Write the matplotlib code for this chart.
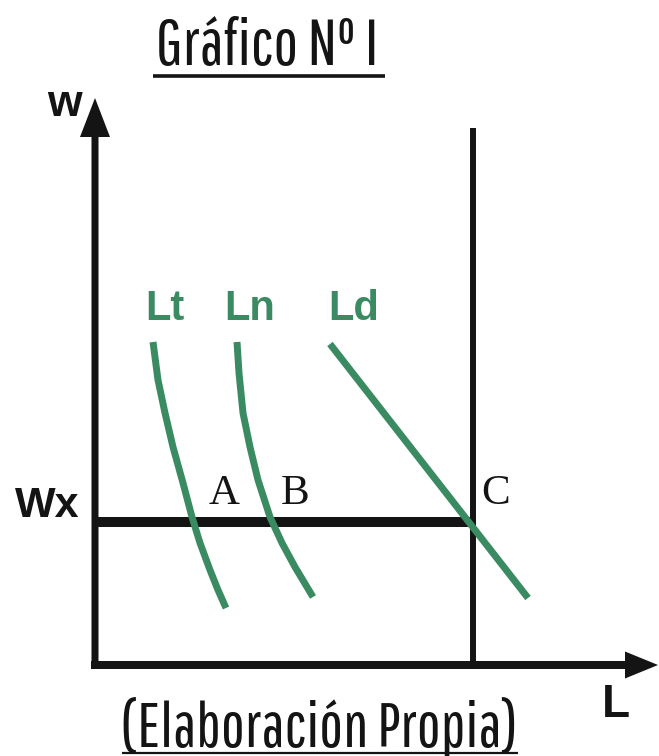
import matplotlib
matplotlib.use("Agg")
import matplotlib.pyplot as plt

# schematic coordinates (origin at the corner of the axes)
lt_x = [58, 63, 70, 78, 88, 97, 105, 115, 123, 131]
lt_y = [323, 285, 252, 218, 182, 148, 122, 95, 75, 57]
ln_x = [142, 144, 148, 155, 163, 175, 187, 200, 218]
ln_y = [323, 292, 252, 218, 185, 148, 122, 98, 68]
ld_x = [235, 433]
ld_y = [321, 67]

wx = 143          # wage level Wx
l_full = 378      # vertical line (full employment)
l_top = 537

curve_names = ["Lt", "Ln", "Ld"]
curve_label_x = [70, 155, 259]
point_names = ["A", "B", "C"]
point_label_x = [129, 200, 401]

green = "#3b8b62"
black = "#141414"

fig = plt.figure(figsize=(6.59, 7.56), dpi=100)
ax = fig.add_axes([0, 0, 1, 1])
ax.set_xlim(-95, 564)
ax.set_ylim(-91, 665)
ax.axis("off")

# axes with arrows
ax.arrow(0, -4, 0, 571, width=7, head_width=30, head_length=39,
         length_includes_head=True, color=black, lw=0)
ax.arrow(-4, 0, 567, 0, width=8, head_width=27, head_length=33,
         length_includes_head=True, color=black, lw=0)

ax.plot([l_full, l_full], [0, l_top], color=black, lw=4.3, solid_capstyle="butt")
ax.plot([0, l_full + 2], [wx, wx], color=black, lw=7.2, solid_capstyle="butt")

for xs, ys in [(lt_x, lt_y), (ln_x, ln_y), (ld_x, ld_y)]:
    ax.plot(xs, ys, color=green, lw=5, solid_capstyle="butt",
            solid_joinstyle="round")

gothic = ["Pathway Gothic One", "Liberation Sans Narrow", "DejaVu Sans"]
sans = ["Liberation Sans", "DejaVu Sans"]
serif = ["Liberation Serif", "DejaVu Serif"]

for name, x in zip(curve_names, curve_label_x):
    ax.text(x, 356, name, color=green, fontsize=30, fontweight="bold",
            family=sans, ha="center", va="center")

for name, x in zip(point_names, point_label_x):
    ax.text(x, 171, name, color=black, fontsize=31, family=serif,
            ha="center", va="center")

ax.text(-31, 560, "w", fontsize=32, fontweight="bold", family=sans,
        ha="center", va="center", color=black)
ax.text(-48, 159, "Wx", fontsize=31, fontweight="bold", family=sans,
        ha="center", va="center", color=black)
ax.text(521, -40, "L", fontsize=33, fontweight="bold", family=sans,
        ha="center", va="center", color=black)

# title and source, underlined
ax.text(172, 600, "Gráfico Nº I", fontsize=47, family=gothic,
        ha="center", va="baseline", color=black)
ax.plot([58, 290], [589, 589], color=black, lw=2.6, solid_capstyle="butt")

ax.text(224, -82, "(Elaboración Propia)", fontsize=45.5, family=gothic,
        ha="center", va="baseline", color=black)
ax.plot([27, 423], [-88, -88], color=black, lw=1.6, solid_capstyle="butt")

fig.savefig("out.png", dpi=100)
